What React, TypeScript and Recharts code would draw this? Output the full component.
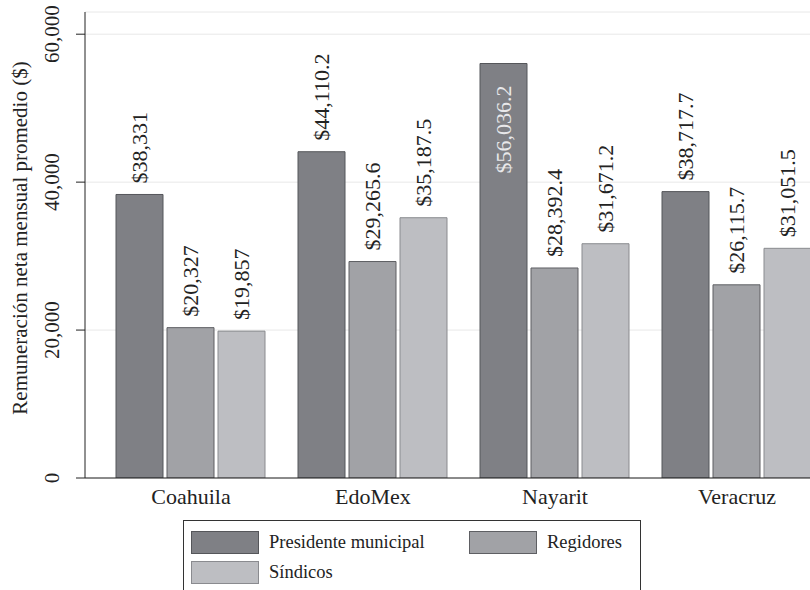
import React from "react";
import { BarChart, Bar, XAxis, YAxis, CartesianGrid, LabelList } from "recharts";

const states = ["Coahuila", "EdoMex", "Nayarit", "Veracruz"];
const presidente = [38331, 44110.2, 56036.2, 38717.7];
const regidores = [20327, 29265.6, 28392.4, 26115.7];
const sindicos = [19857, 35187.5, 31671.2, 31051.5];
const yTicks = [0, 20000, 40000, 60000];

const seriesInfo = [
  { key: "presidente", name: "Presidente municipal", fill: "#7f8085", stroke: "#55565a" },
  { key: "regidores", name: "Regidores", fill: "#a1a2a6", stroke: "#5e5f63" },
  { key: "sindicos", name: "Síndicos", fill: "#bdbec2", stroke: "#8a8b8f" },
];

const data = states.map((s, i) => ({
  state: s,
  presidente: presidente[i],
  regidores: regidores[i],
  sindicos: sindicos[i],
}));

const FONT = '"Liberation Serif", "DejaVu Serif", serif';

// "$38,331" / "$44,110.2": whole values keep no decimals, the rest keep one
function money(v: number) {
  const digits = Number.isInteger(v) ? 0 : 1;
  return "$" + v.toLocaleString("en-US", { minimumFractionDigits: digits, maximumFractionDigits: digits });
}

function ValueLabel(props: any) {
  const { x, y, width, value } = props;
  const cx = x + width / 2;
  const inside = value > 50000; // the tallest bar gets its label inside, like the source
  return (
    <text
      transform={`translate(${cx + 7}, ${inside ? y + 22 : y - 11}) rotate(-90)`}
      textAnchor={inside ? "end" : "start"}
      style={{ fontFamily: FONT }}
      fontSize={22}
      fill={inside ? "#e8e8ea" : "#222"}
    >
      {money(value)}
    </text>
  );
}

function YTick(props: any) {
  const { y, payload } = props;
  return (
    <text
      transform={`translate(59, ${y}) rotate(-90)`}
      textAnchor="middle"
      style={{ fontFamily: FONT }}
      fontSize={21}
      fill="#222"
    >
      {payload.value.toLocaleString("en-US")}
    </text>
  );
}

function XTick(props: any) {
  const { x, y, payload } = props;
  return (
    <text x={x} y={y + 18} textAnchor="middle" style={{ fontFamily: FONT }} fontSize={22} fill="#222">
      {payload.value}
    </text>
  );
}

function Legend() {
  const rows = [
    [seriesInfo[0], seriesInfo[1]],
    [seriesInfo[2]],
  ];
  return (
    <div
      style={{
        position: "absolute",
        left: 183,
        top: 520,
        width: 456,
        height: 90,
        border: "1px solid #333",
        background: "#fff",
        fontFamily: FONT,
        fontSize: 18.5,
        color: "#222",
      }}
    >
      {rows.map((row, r) =>
        row.map((s, c) => (
          <div
            key={s.key}
            style={{
              position: "absolute",
              left: c === 0 ? 7 : 285,
              top: 10 + r * 30,
              display: "flex",
              alignItems: "center",
              height: 23,
            }}
          >
            <div
              style={{
                width: 66,
                height: 21,
                background: s.fill,
                border: `1px solid ${s.stroke}`,
                marginRight: 10,
              }}
            />
            <span>{s.name}</span>
          </div>
        ))
      )}
    </div>
  );
}

export default function App() {
  return (
    <div
      style={{
        position: "absolute",
        left: 0,
        top: 0,
        width: 810,
        height: 590,
        overflow: "hidden",
        background: "#fff",
        fontFamily: FONT,
      }}
    >
      <BarChart
        width={850}
        height={590}
        data={data}
        margin={{ top: 12, right: 7, bottom: 82, left: 0 }}
        barCategoryGap={16}
        barGap={4}
        style={{ fontFamily: FONT }}
      >
        <CartesianGrid vertical={false} stroke="#e8e8e8" />
        <XAxis
          dataKey="state"
          padding={{ left: 15, right: 15 }}
          tickLine={false}
          axisLine={{ stroke: "#222" }}
          tick={<XTick />}
          height={30}
          interval={0}
        />
        <YAxis
          width={85}
          domain={[0, 63000]}
          ticks={yTicks}
          tickSize={9}
          tickLine={{ stroke: "#222" }}
          axisLine={{ stroke: "#222" }}
          tick={<YTick />}
          allowDataOverflow
          label={() => (
            <text
              transform="translate(27, 238) rotate(-90)"
              textAnchor="middle"
              style={{ fontFamily: FONT }}
              fontSize={21}
              fill="#222"
            >
              Remuneración neta mensual promedio ($)
            </text>
          )}
        />
        {seriesInfo.map((s) => (
          <Bar
            key={s.key}
            dataKey={s.key}
            name={s.name}
            fill={s.fill}
            stroke={s.stroke}
            strokeWidth={1}
            isAnimationActive={false}
          >
            <LabelList dataKey={s.key} content={<ValueLabel />} />
          </Bar>
        ))}
      </BarChart>
      <Legend />
    </div>
  );
}
